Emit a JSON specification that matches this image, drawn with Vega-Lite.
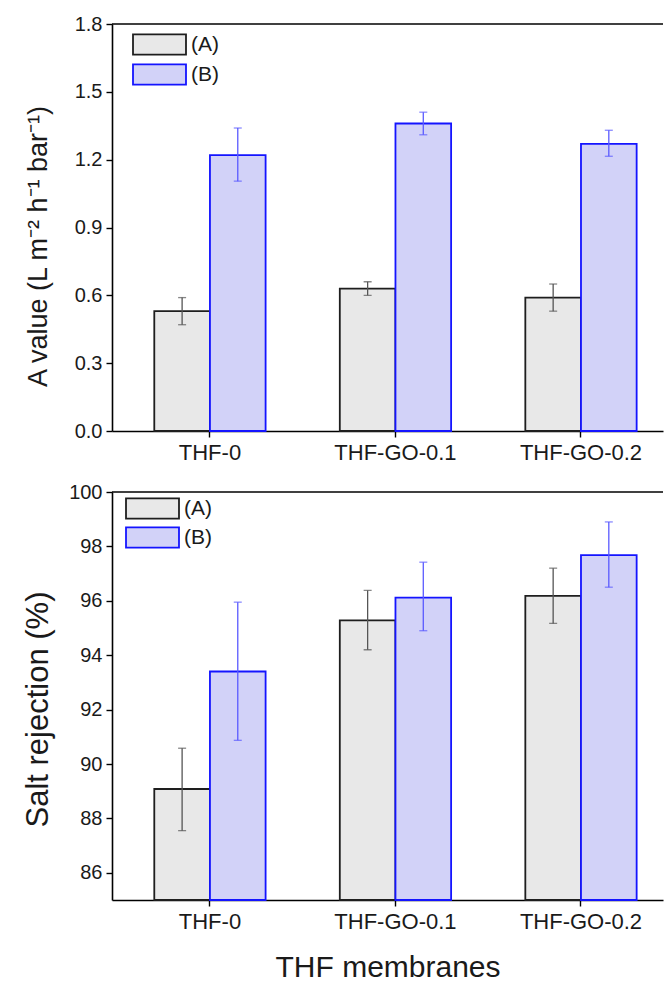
{
  "$schema": "https://vega.github.io/schema/vega-lite/v6.json",
  "background": "white",
  "padding": {"left": 22, "top": 14, "right": 0, "bottom": 0},
  "spacing": 19,
  "datasets": {
    "flux": [
      {"membrane": "THF-0", "group": "(A)", "value": 0.53, "lo": 0.47, "hi": 0.59},
      {"membrane": "THF-0", "group": "(B)", "value": 1.22, "lo": 1.105, "hi": 1.34},
      {"membrane": "THF-GO-0.1", "group": "(A)", "value": 0.63, "lo": 0.6, "hi": 0.66},
      {"membrane": "THF-GO-0.1", "group": "(B)", "value": 1.36, "lo": 1.31, "hi": 1.41},
      {"membrane": "THF-GO-0.2", "group": "(A)", "value": 0.59, "lo": 0.53, "hi": 0.65},
      {"membrane": "THF-GO-0.2", "group": "(B)", "value": 1.27, "lo": 1.215, "hi": 1.33}
    ],
    "rejection": [
      {"membrane": "THF-0", "group": "(A)", "value": 89.08, "lo": 87.55, "hi": 90.58},
      {"membrane": "THF-0", "group": "(B)", "value": 93.4, "lo": 90.87, "hi": 95.95},
      {"membrane": "THF-GO-0.1", "group": "(A)", "value": 95.28, "lo": 94.2, "hi": 96.38},
      {"membrane": "THF-GO-0.1", "group": "(B)", "value": 96.12, "lo": 94.9, "hi": 97.42},
      {"membrane": "THF-GO-0.2", "group": "(A)", "value": 96.18, "lo": 95.17, "hi": 97.2},
      {"membrane": "THF-GO-0.2", "group": "(B)", "value": 97.68, "lo": 96.5, "hi": 98.9}
    ]
  },
  "config": {
    "font": "Liberation Sans",
    "view": {"stroke": null},
    "axis": {
      "grid": false,
      "domainColor": "black",
      "domainWidth": 1.6,
      "tickColor": "black",
      "tickWidth": 1.4,
      "labelColor": "#1a1a1a",
      "titleColor": "#1a1a1a",
      "labelFont": "Liberation Sans",
      "titleFont": "Liberation Sans",
      "titleFontWeight": "normal"
    },
    "legend": {"labelFont": "Liberation Sans", "labelColor": "#1a1a1a"}
  },
  "resolve": {"scale": {"fill": "independent", "stroke": "independent"}},
  "vconcat": [
    {
      "width": 551,
      "height": 407,
      "layer": [
        {
          "data": {"name": "flux"},
          "encoding": {
            "x": {
              "field": "membrane",
              "type": "nominal",
              "sort": ["THF-0", "THF-GO-0.1", "THF-GO-0.2"],
              "scale": {"paddingInner": 0.4, "paddingOuter": 0.185, "align": 0.616},
              "axis": {"title": null, "labelAngle": 0, "labelFontSize": 22, "tickSize": 6, "labelPadding": 5}
            },
            "xOffset": {"field": "group", "type": "nominal", "scale": {"paddingInner": 0, "paddingOuter": 0}}
          },
          "layer": [
            {
              "mark": {"type": "bar", "strokeWidth": 1.8},
              "encoding": {
                "y": {
                  "field": "value",
                  "type": "quantitative",
                  "title": "A value (L m⁻² h⁻¹ bar⁻¹)",
                  "scale": {"domain": [0, 1.8], "nice": false, "zero": true},
                  "axis": {
                    "values": [0, 0.15, 0.3, 0.45, 0.6, 0.75, 0.9, 1.05, 1.2, 1.35, 1.5, 1.65, 1.8],
                    "format": ".1f",
                    "labelExpr": "round(datum.value*100) % 30 === 0 ? datum.label : ''",
                    "labelOverlap": false,
                    "tickSize": {"condition": {"test": "round(datum.value*100) % 30 !== 0", "value": 3}, "value": 6},
                    "labelFontSize": 20,
                    "labelPadding": 4,
                    "titleFontSize": 27,
                    "titlePadding": 22,
                    "titleY": 222
                  }
                },
                "fill": {
                  "field": "group",
                  "type": "nominal",
                  "scale": {"domain": ["(A)", "(B)"], "range": ["#e8e8e8", "#d2d2f8"]},
                  "legend": {"title": null, "orient": "none", "legendX": 33, "legendY": 6, "padding": 0, "symbolType": "M-2,-0.76H2V0.76H-2Z", "symbolSize": 702, "symbolStrokeWidth": 1.8, "symbolOpacity": 1, "labelFontSize": 21, "labelOffset": 17, "rowPadding": 1}
                },
                "stroke": {
                  "field": "group",
                  "type": "nominal",
                  "scale": {"domain": ["(A)", "(B)"], "range": ["#1e1e1e", "#1414ff"]},
                  "legend": {"title": null, "orient": "none", "legendX": 33, "legendY": 6, "padding": 0, "symbolType": "M-2,-0.76H2V0.76H-2Z", "symbolSize": 702, "symbolStrokeWidth": 1.8, "symbolOpacity": 1, "labelFontSize": 21, "labelOffset": 17, "rowPadding": 1}
                }
              }
            },
            {
              "mark": {"type": "rule", "strokeWidth": 1.3},
              "encoding": {
                "y": {"field": "lo", "type": "quantitative", "title": "A value (L m⁻² h⁻¹ bar⁻¹)"},
                "y2": {"field": "hi"},
                "color": {"condition": {"test": "datum.group === '(A)'", "value": "#555555"}, "value": "#5a5aff"}
              }
            },
            {
              "mark": {"type": "tick", "orient": "horizontal", "thickness": 1.3, "size": 8},
              "encoding": {
                "y": {"field": "lo", "type": "quantitative", "title": "A value (L m⁻² h⁻¹ bar⁻¹)"},
                "color": {"condition": {"test": "datum.group === '(A)'", "value": "#555555"}, "value": "#5a5aff"}
              }
            },
            {
              "mark": {"type": "tick", "orient": "horizontal", "thickness": 1.3, "size": 8},
              "encoding": {
                "y": {"field": "hi", "type": "quantitative", "title": "A value (L m⁻² h⁻¹ bar⁻¹)"},
                "color": {"condition": {"test": "datum.group === '(A)'", "value": "#555555"}, "value": "#5a5aff"}
              }
            }
          ]
        },
        {
          "data": {"values": [{}]},
          "mark": {"type": "rule", "strokeWidth": 1.6, "color": "black"},
          "encoding": {"y": {"datum": 1.8}}
        }
      ]
    },
    {
      "width": 551,
      "height": 408,
      "layer": [
        {
          "data": {"name": "rejection"},
          "encoding": {
            "x": {
              "field": "membrane",
              "type": "nominal",
              "sort": ["THF-0", "THF-GO-0.1", "THF-GO-0.2"],
              "scale": {"paddingInner": 0.4, "paddingOuter": 0.185, "align": 0.616},
              "axis": {"title": "THF membranes", "labelAngle": 0, "labelFontSize": 22, "tickSize": 6, "labelPadding": 5, "titleFontSize": 30, "titlePadding": 20}
            },
            "xOffset": {"field": "group", "type": "nominal", "scale": {"paddingInner": 0, "paddingOuter": 0}}
          },
          "layer": [
            {
              "mark": {"type": "bar", "strokeWidth": 1.8},
              "encoding": {
                "y": {
                  "field": "value",
                  "type": "quantitative",
                  "title": "Salt rejection (%)",
                  "scale": {"domain": [85, 100], "nice": false, "zero": false},
                  "axis": {
                    "values": [86, 88, 90, 92, 94, 96, 98, 100],
                    "labelOverlap": false,
                    "tickSize": 6,
                    "labelFontSize": 20,
                    "labelPadding": 4,
                    "titleFontSize": 31,
                    "titlePadding": 14,
                    "titleY": 217
                  }
                },
                "y2": {"datum": 85},
                "fill": {
                  "field": "group",
                  "type": "nominal",
                  "scale": {"domain": ["(A)", "(B)"], "range": ["#e8e8e8", "#d2d2f8"]},
                  "legend": {"title": null, "orient": "none", "legendX": 26, "legendY": 2, "padding": 0, "symbolType": "M-2,-0.76H2V0.76H-2Z", "symbolSize": 702, "symbolStrokeWidth": 1.8, "symbolOpacity": 1, "labelFontSize": 21, "labelOffset": 17, "rowPadding": -1}
                },
                "stroke": {
                  "field": "group",
                  "type": "nominal",
                  "scale": {"domain": ["(A)", "(B)"], "range": ["#1e1e1e", "#1414ff"]},
                  "legend": {"title": null, "orient": "none", "legendX": 26, "legendY": 2, "padding": 0, "symbolType": "M-2,-0.76H2V0.76H-2Z", "symbolSize": 702, "symbolStrokeWidth": 1.8, "symbolOpacity": 1, "labelFontSize": 21, "labelOffset": 17, "rowPadding": -1}
                }
              }
            },
            {
              "mark": {"type": "rule", "strokeWidth": 1.3},
              "encoding": {
                "y": {"field": "lo", "type": "quantitative", "title": "Salt rejection (%)"},
                "y2": {"field": "hi"},
                "color": {"condition": {"test": "datum.group === '(A)'", "value": "#555555"}, "value": "#5a5aff"}
              }
            },
            {
              "mark": {"type": "tick", "orient": "horizontal", "thickness": 1.3, "size": 8},
              "encoding": {
                "y": {"field": "lo", "type": "quantitative", "title": "Salt rejection (%)"},
                "color": {"condition": {"test": "datum.group === '(A)'", "value": "#555555"}, "value": "#5a5aff"}
              }
            },
            {
              "mark": {"type": "tick", "orient": "horizontal", "thickness": 1.3, "size": 8},
              "encoding": {
                "y": {"field": "hi", "type": "quantitative", "title": "Salt rejection (%)"},
                "color": {"condition": {"test": "datum.group === '(A)'", "value": "#555555"}, "value": "#5a5aff"}
              }
            }
          ]
        },
        {
          "data": {"values": [{}]},
          "mark": {"type": "rule", "strokeWidth": 1.6, "color": "black"},
          "encoding": {"y": {"datum": 100}}
        }
      ]
    }
  ]
}
